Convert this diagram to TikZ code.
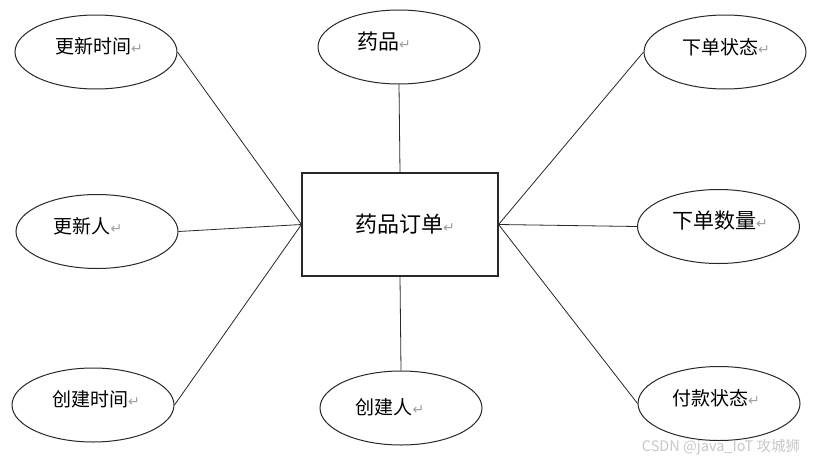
\documentclass[tikz,border=0pt]{standalone}
\usepackage{fontspec}
\setmainfont{Noto Sans CJK SC}
\newfontfamily\symfont{DejaVu Sans}
\usetikzlibrary{shapes.geometric}
\definecolor{ink}{RGB}{40,40,40}
\definecolor{markgray}{RGB}{160,160,160}
\definecolor{wmgray}{RGB}{200,200,200}
\newcommand{\pmark}{{\symfont\fontsize{14pt}{14pt}\selectfont\color{markgray}↵}}
\tikzset{
  attr/.style={ellipse, draw=ink, line width=1pt, minimum width=162pt, minimum height=74pt, inner sep=0pt},
  lbl/.style={inner sep=0pt, font=\fontsize{19pt}{19pt}\selectfont, text=black},
  entity/.style={rectangle, draw=ink, line width=1.1pt, minimum width=196pt, minimum height=103pt, inner sep=0pt},
  link/.style={draw=ink, line width=0.8pt}
}
\begin{document}
\begin{tikzpicture}[x=1pt,y=-1pt]
\useasboundingbox (0,0) rectangle (813,463);
\fill[white] (0,0) rectangle (813,463);
% entity
\node[entity] (E) at (400,224.5) {};
\node[lbl, font=\fontsize{22pt}{22pt}\selectfont] (Et) at (405,224) {药品订单\pmark};
% attributes
\node[attr] (A1) at (96,52) {};
\node[lbl] (A1t) at (99,46) {更新时间\pmark};
\node[attr] (A2) at (97,231.5) {};
\node[lbl] (A2t) at (88,226) {更新人\pmark};
\node[attr] (A3) at (93,405) {};
\node[lbl] (A3t) at (96,399) {创建时间\pmark};
\node[attr] (A4) at (399,47) {};
\node[lbl, font=\fontsize{21pt}{21pt}\selectfont] (A4t) at (384,42) {药品\pmark};
\node[attr] (A5) at (401,408) {};
\node[lbl] (A5t) at (390,407) {创建人\pmark};
\node[attr] (A6) at (725,52) {};
\node[lbl] (A6t) at (726,47) {下单状态\pmark};
\node[attr] (A7) at (718.5,226.5) {};
\node[lbl, font=\fontsize{21pt}{21pt}\selectfont] (A7t) at (720,221) {下单数量\pmark};
\node[attr] (A8) at (719,403.5) {};
\node[lbl] (A8t) at (716,398) {付款状态\pmark};
% connectors
\draw[link] (A1.east) -- (E.west);
\draw[link] (A2.east) -- (E.west);
\draw[link] (A3.east) -- (E.west);
\draw[link] (A4.south) -- (E.north);
\draw[link] (E.south) -- (A5.north);
\draw[link] (E.east) -- (A6.west);
\draw[link] (E.east) -- (A7.west);
\draw[link] (E.east) -- (A8.west);
% watermark
\node[inner sep=0pt, text=wmgray, font=\fontsize{14.5pt}{14.5pt}\selectfont] (wm) at (721,447) {CSDN @java\_IoT 攻城狮};
\end{tikzpicture}
\end{document}
